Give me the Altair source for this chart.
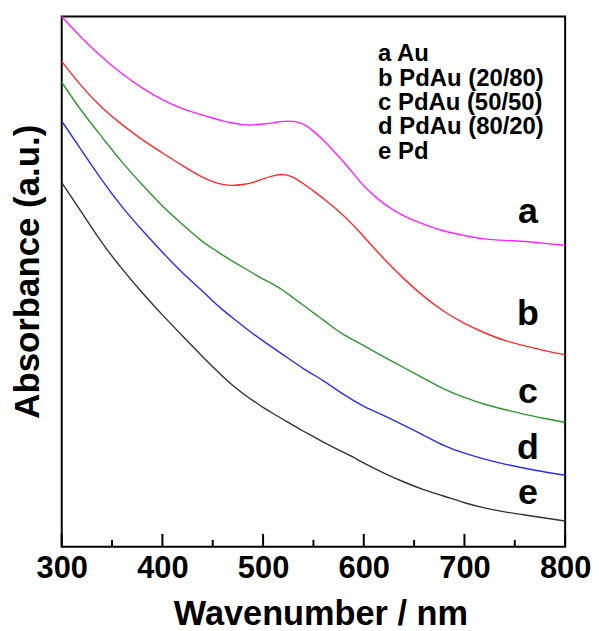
import altair as alt
import pandas as pd

# ---- data (absorbance in arbitrary units) ----
wavelength = [300, 320, 340, 360, 380, 400, 420, 440,
              450, 460, 470, 480, 490, 500, 510, 520, 530, 540, 550, 560, 570, 580, 590, 600,
              620, 640, 660, 680, 700, 720, 740, 760, 780, 800]
abs_a = [533, 511, 492, 475, 461, 449, 440, 434,
         431, 428, 426, 424, 424, 425, 426, 428, 428, 426, 418, 409, 398, 387, 375, 362,
         344, 332, 324, 317, 313, 309, 308, 307, 305, 303]
abs_b = [488, 462, 441, 424, 409, 396, 383, 371,
         367, 364, 363, 364, 366, 370, 373, 375, 372, 365, 358, 350, 342, 333, 323, 312,
         289, 269, 251, 236, 224, 215, 207, 202, 197, 193]
abs_c = [467, 437, 412, 386, 364, 342, 324, 306,
         300, 293, 287, 281, 275, 269, 264, 258, 250, 243, 235, 228, 220, 213, 208, 202,
         191, 180, 169, 158, 150, 143, 138, 133, 129, 125]
abs_d = [428, 398, 368, 341, 318, 296, 275, 257,
         247, 238, 230, 222, 214, 207, 200, 193, 186, 179, 173, 167, 160, 153, 147, 141,
         132, 122, 112, 101, 94, 88, 83, 79, 75, 72]
abs_e = [366, 336, 305, 279, 255, 233, 212, 191,
         181, 171, 162, 154, 147, 140, 134, 128, 122, 116, 111, 105, 100, 95, 90, 84,
         74, 65, 57, 51, 44, 39, 35, 32, 29, 26]

series_keys = ["a", "b", "c", "d", "e"]
series_names = ["Au", "PdAu (20/80)", "PdAu (50/50)", "PdAu (80/20)", "Pd"]
series_colors = ["#FF22FF", "#FF2A2A", "#2E962E", "#2B2BFF", "#333333"]

label_x = [763, 763, 763, 763, 763]
label_y = [325, 223, 145, 88, 43]

major_ticks = [300, 400, 500, 600, 700, 800]
minor_ticks = [350, 450, 550, 650, 750]

# ---- build tables ----
all_series = [abs_a, abs_b, abs_c, abs_d, abs_e]
rows = []
for key, vals in zip(series_keys, all_series):
    for w, v in zip(wavelength, vals):
        rows.append({"wl": w, "A": v, "s": key})
df = pd.DataFrame(rows)

lab_df = pd.DataFrame({"wl": label_x, "A": label_y, "s": series_keys})
major_df = pd.DataFrame({"t": major_ticks})
minor_df = pd.DataFrame({"t": minor_ticks})

FONT = "Liberation Sans"
W, H = 506, 533

xscale = alt.Scale(domain=[300, 800], nice=False)
yscale = alt.Scale(domain=[0, 533], nice=False, zero=False)

lines = alt.Chart(df).mark_line(strokeWidth=1.4, interpolate="basis").encode(
    x=alt.X("wl:Q", scale=xscale,
            axis=alt.Axis(title="Wavenumber / nm", values=major_ticks, format="d",
                          labelFont=FONT, labelFontSize=31, labelFontWeight="bold",
                          labelColor="black", labelPadding=7, labelFlush=False,
                          labelOverlap=False, ticks=False, domain=False, grid=False,
                          titleFont=FONT, titleFontSize=34.5, titleFontWeight="bold",
                          titleColor="black", titlePadding=14, titleX=260)),
    y=alt.Y("A:Q", scale=yscale,
            axis=alt.Axis(title="Absorbance (a.u.)", labels=False, ticks=False,
                          domain=False, grid=False, titleFont=FONT, titleFontSize=35,
                          titleFontWeight="bold", titleColor="black",
                          titlePadding=16, titleY=256)),
    color=alt.Color("s:N", scale=alt.Scale(domain=series_keys, range=series_colors),
                    legend=None),
    detail="s:N",
)

labels = alt.Chart(lab_df).mark_text(
    font=FONT, fontSize=36, fontWeight="bold", color="black",
    align="center", baseline="alphabetic"
).encode(
    x=alt.X("wl:Q", scale=xscale),
    y=alt.Y("A:Q", scale=yscale),
    text="s:N",
)

legend_lines = [f"{k} {n}" for k, n in zip(series_keys, series_names)]
legend = alt.Chart(pd.DataFrame({"d": [0]})).mark_text(
    font=FONT, fontSize=24, fontWeight="bold", color="black",
    align="left", baseline="alphabetic", lineHeight=24.5
).encode(
    x=alt.value(318), y=alt.value(45), text=alt.value(legend_lines)
)

major = alt.Chart(major_df).mark_rule(color="black", strokeWidth=2).encode(
    x=alt.X("t:Q", scale=xscale), y=alt.value(H), y2=alt.value(H - 13)
)
minor = alt.Chart(minor_df).mark_rule(color="black", strokeWidth=2).encode(
    x=alt.X("t:Q", scale=xscale), y=alt.value(H), y2=alt.value(H - 7)
)

chart = alt.layer(lines, labels, legend, major, minor).properties(
    width=W, height=H,
    autosize=alt.AutoSizeParams(type="none"),
    padding={"left": 54, "top": 7, "right": 26, "bottom": 83},
    background="white",
).configure_view(stroke="black", strokeWidth=2)

chart.save("out.html", embed_options={"renderer": "svg", "actions": False})
